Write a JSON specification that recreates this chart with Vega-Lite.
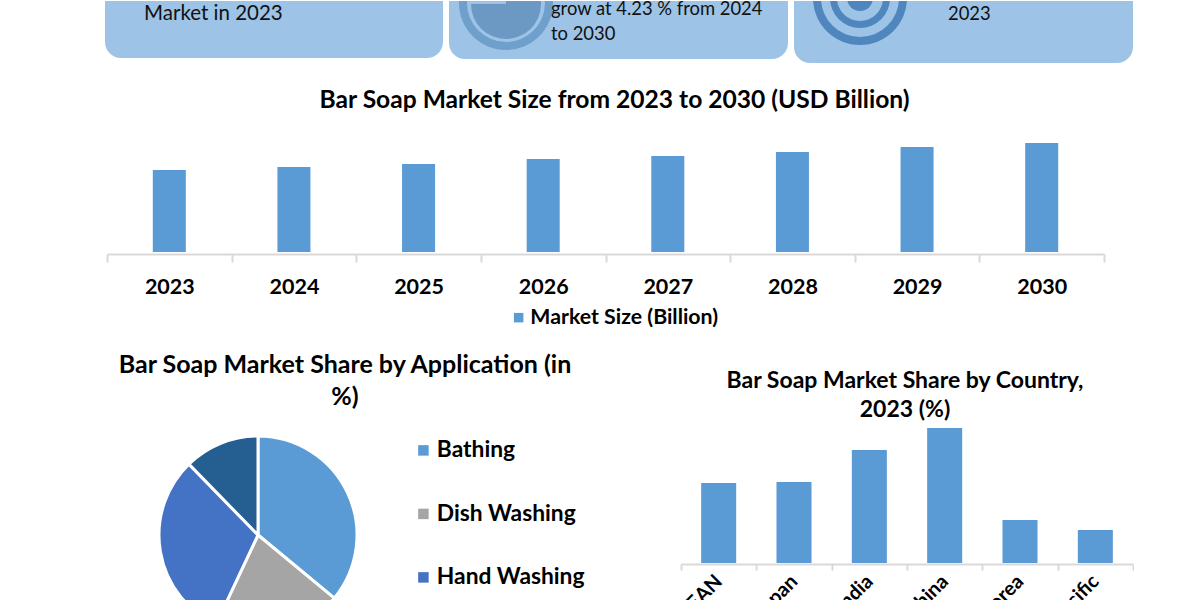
{
"$schema":"https://vega.github.io/schema/vega-lite/v6.json",
"padding":{"left":105,"top":0,"right":0,"bottom":0},
"background":"white",
"config":{"view":{"stroke":null},"font":"Lato","title":{"font":"Lato","fontWeight":"bold","color":"#000000"},"axis":{"labelFont":"Lato"},"legend":{"labelFont":"Lato"}},
"resolve":{"scale":{"color":"independent"},"legend":{"color":"independent"}},
"spacing":25,
"vconcat":[
 {"bounds":"flush","spacing":6,"hconcat":[
  {"width":338,"height":57,"resolve":{"scale":{"x":"independent","y":"independent"}},"layer":[
   {"data":{"values":[{"card":"Volume","full":1}]},"mark":{"type":"bar","color":"#9dc3e6","cornerRadiusBottomLeft":16,"cornerRadiusBottomRight":16},
    "encoding":{"x":{"field":"card","type":"nominal","axis":null,"scale":{"paddingInner":0,"paddingOuter":0}},"y":{"field":"full","type":"quantitative","axis":null,"scale":{"domain":[0,1]}}}},
   {"data":{"values":[{"card":"Volume","line":1,"label":"Market in 2023"}]},"mark":{"type":"text","align":"left","baseline":"middle","fontSize":20.5,"font":"Lato","color":"#111111"},
    "encoding":{"x":{"field":"card","type":"nominal","axis":null,"scale":{"type":"point","range":[39,39],"padding":0}},"y":{"field":"line","type":"ordinal","axis":null,"scale":{"type":"point","domain":[1],"range":[13,13],"padding":0}},"text":{"field":"label"}}}
  ]},
  {"width":339,"height":58,"resolve":{"scale":{"x":"independent","y":"independent"}},
   "layer":[
   {"data":{"values":[{"card":"Growth","full":1}]},"mark":{"type":"bar","color":"#9dc3e6","cornerRadiusBottomLeft":16,"cornerRadiusBottomRight":16},
    "encoding":{"x":{"field":"card","type":"nominal","axis":null,"scale":{"paddingInner":0,"paddingOuter":0}},"y":{"field":"full","type":"quantitative","axis":null,"scale":{"domain":[0,1]}}}},
   {"data":{"values":[{"card":"Growth"}]},"mark":{"type":"arc","clip":true,"radius":47,"radius2":39,"theta":0,"theta2":6.2832,"color":"#6f9fcb"},
    "encoding":{"x":{"field":"card","type":"nominal","axis":null,"scale":{"type":"point","range":[57,57],"padding":0}},"y":{"field":"card","type":"nominal","axis":null,"scale":{"type":"point","range":[2,2],"padding":0}}}},
   {"data":{"values":[{"card":"Growth"}]},"mark":{"type":"arc","clip":true,"radius":35,"radius2":0,"theta":0,"theta2":4.7124,"color":"#6b99c4"},
    "encoding":{"x":{"field":"card","type":"nominal","axis":null,"scale":{"type":"point","range":[57,57],"padding":0}},"y":{"field":"card","type":"nominal","axis":null,"scale":{"type":"point","range":[3,3],"padding":0}}}},
   {"data":{"values":[{"card":"Growth","line":1,"label":"grow at 4.23 % from 2024"},{"card":"Growth","line":2,"label":"to 2030"}]},"mark":{"type":"text","align":"left","baseline":"middle","fontSize":18.4,"font":"Lato","color":"#111111"},
    "encoding":{"x":{"field":"card","type":"nominal","axis":null,"scale":{"type":"point","range":[102,102],"padding":0}},"y":{"field":"line","type":"ordinal","axis":null,"scale":{"type":"point","domain":[1,2],"range":[8,33],"padding":0}},"text":{"field":"label"}}}
  ]},
  {"width":339,"height":62,"resolve":{"scale":{"x":"independent","y":"independent"}},
   "layer":[
   {"data":{"values":[{"card":"Share","full":1}]},"mark":{"type":"bar","color":"#9dc3e6","cornerRadiusBottomLeft":16,"cornerRadiusBottomRight":16},
    "encoding":{"x":{"field":"card","type":"nominal","axis":null,"scale":{"paddingInner":0,"paddingOuter":0}},"y":{"field":"full","type":"quantitative","axis":null,"scale":{"domain":[0,1]}}}},
   {"data":{"values":[{"card":"Share"}]},"mark":{"type":"arc","clip":true,"radius":47,"radius2":39,"theta":0,"theta2":6.2832,"color":"#4f86bd"},
    "encoding":{"x":{"field":"card","type":"nominal","axis":null,"scale":{"type":"point","range":[66,66],"padding":0}},"y":{"field":"card","type":"nominal","axis":null,"scale":{"type":"point","range":[-3,-3],"padding":0}}}},
   {"data":{"values":[{"card":"Share"}]},"mark":{"type":"arc","clip":true,"radius":30,"radius2":23,"theta":0,"theta2":6.2832,"color":"#4f86bd"},
    "encoding":{"x":{"field":"card","type":"nominal","axis":null,"scale":{"type":"point","range":[66,66],"padding":0}},"y":{"field":"card","type":"nominal","axis":null,"scale":{"type":"point","range":[-3,-3],"padding":0}}}},
   {"data":{"values":[{"card":"Share"}]},"mark":{"type":"arc","clip":true,"radius":13,"radius2":0,"theta":0,"theta2":6.2832,"color":"#4f86bd"},
    "encoding":{"x":{"field":"card","type":"nominal","axis":null,"scale":{"type":"point","range":[66,66],"padding":0}},"y":{"field":"card","type":"nominal","axis":null,"scale":{"type":"point","range":[-3,-3],"padding":0}}}},
   {"data":{"values":[{"card":"Share","line":1,"label":"2023"}]},"mark":{"type":"text","align":"left","baseline":"middle","fontSize":18.4,"font":"Lato","color":"#111111"},
    "encoding":{"x":{"field":"card","type":"nominal","axis":null,"scale":{"type":"point","range":[154,154],"padding":0}},"y":{"field":"line","type":"ordinal","axis":null,"scale":{"type":"point","domain":[1],"range":[13,13],"padding":0}},"text":{"field":"label"}}}
  ]}
 ]},
 {"width":1001,"height":127,
  "title":{"text":"Bar Soap Market Size from 2023 to 2030 (USD Billion)","fontSize":24.6,"anchor":"middle","dx":9,"offset":11},
  "data":{"values":[
   {"year":"2023","size":82,"series":"Market Size (Billion)"},
   {"year":"2024","size":85,"series":"Market Size (Billion)"},
   {"year":"2025","size":88,"series":"Market Size (Billion)"},
   {"year":"2026","size":93,"series":"Market Size (Billion)"},
   {"year":"2027","size":96,"series":"Market Size (Billion)"},
   {"year":"2028","size":100,"series":"Market Size (Billion)"},
   {"year":"2029","size":105,"series":"Market Size (Billion)"},
   {"year":"2030","size":109,"series":"Market Size (Billion)"}]},
  "mark":{"type":"bar","width":{"band":0.265}},
  "encoding":{
   "x":{"field":"year","type":"ordinal","title":null,"scale":{"range":[2,999],"paddingInner":0,"paddingOuter":0},
    "axis":{"labelAngle":0,"labelFontSize":21.5,"labelFontWeight":"bold","labelColor":"#000000","labelPadding":14,"domainColor":"#d9d9d9","domainWidth":2,"tickColor":"#d9d9d9","tickWidth":2,"tickSize":8,"tickBand":"extent","offset":2}},
   "y":{"field":"size","type":"quantitative","axis":null,"scale":{"domain":[0,127]}},
   "color":{"field":"series","type":"nominal","scale":{"range":["#5b9bd5"]},"legend":{"title":null,"orient":"none","legendX":403,"legendY":182,"symbolType":"square","symbolSize":90,"symbolStrokeWidth":0,"labelFontSize":21.3,"labelFontWeight":"bold","labelColor":"#000000","labelLimit":400,"labelOffset":1}}
  }},
 {"bounds":"flush","spacing":270,"resolve":{"scale":{"color":"independent"}},"hconcat":[
 {"width":306,"height":214,
  "title":{"text":["Bar Soap Market Share by Application (in","%)"],"fontSize":25,"lineHeight":32,"anchor":"middle","dx":87,"offset":18},
  "data":{"values":[
   {"application":"Bathing","share":36,"rank":1},
   {"application":"Dish Washing","share":21,"rank":2},
   {"application":"Hand Washing","share":30.7,"rank":3},
   {"application":"Others","share":12.3,"rank":4}]},
  "mark":{"type":"arc","radius":99,"stroke":"white","strokeWidth":3},
  "encoding":{
   "theta":{"field":"share","type":"quantitative","stack":true},
   "order":{"field":"rank"},
   "color":{"field":"application","type":"nominal","scale":{"domain":["Bathing","Dish Washing","Hand Washing","Others"],"range":["#5b9bd5","#a5a5a5","#4472c4","#255e91"]},
    "legend":{"title":null,"orient":"none","legendX":307,"legendY":11,"symbolType":"square","symbolSize":110,"symbolStrokeWidth":0,"labelFontSize":22.8,"labelFontWeight":"bold","labelColor":"#000000","rowPadding":39.5,"labelOffset":2,"labelLimit":400}}
  }},
 {"width":452,"height":135,
  "title":{"text":["Bar Soap Market Share by Country,","2023 (%)"],"fontSize":23,"lineHeight":29,"anchor":"middle","dx":-2,"offset":6},
  "data":{"values":[
   {"country":"ASEAN","share":80},
   {"country":"Japan","share":81},
   {"country":"India","share":113},
   {"country":"China","share":135},
   {"country":"South Korea","share":43},
   {"country":"Rest of Asia Pacific","share":33}]},
  "mark":{"type":"bar","color":"#5b9bd5","width":{"band":0.465}},
  "encoding":{
   "x":{"field":"country","type":"nominal","sort":null,"title":null,"scale":{"paddingInner":0,"paddingOuter":0},
    "axis":{"labelAngle":-45,"labelAlign":"right","labelBaseline":"middle","labelFontSize":20,"labelFontWeight":"bold","labelColor":"#000000","labelPadding":8,"labelDx":3,"labelLimit":400,"labelOverlap":false,"domainColor":"#d9d9d9","domainWidth":2,"tickColor":"#d9d9d9","tickWidth":2,"tickSize":6,"tickBand":"extent","offset":1}},
   "y":{"field":"share","type":"quantitative","axis":null,"scale":{"domain":[0,135]}}
  }}
]}
]}
